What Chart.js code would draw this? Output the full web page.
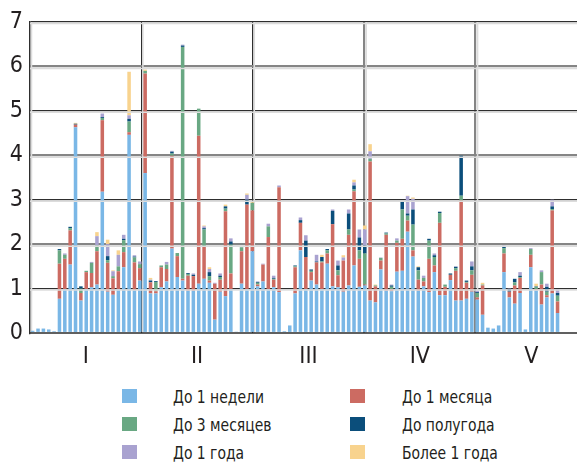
<!DOCTYPE html>
<html><head><meta charset="utf-8">
<script src="https://cdn.jsdelivr.net/npm/chart.js@4/dist/chart.umd.min.js"></script>
<style>
html,body{margin:0;padding:0;background:#fff;overflow:hidden;width:577px;height:464px;}
#wrap{position:absolute;left:0;top:0;width:587px;height:370px;}
.leg{position:absolute;font-family:"Liberation Sans Narrow","Arial Narrow","DejaVu Sans Condensed",sans-serif;font-size:18px;color:#231f20;line-height:20px;white-space:nowrap;transform:scaleX(0.86);transform-origin:0 50%;}
.sw{position:absolute;width:15px;height:14px;}
</style></head><body>
<div id="wrap"><canvas id="c" width="587" height="370"></canvas></div>
<div id="legend"></div>
<script>
const groups = ['I','II','III','IV','V'];
const seriesNames = ['До 1 недели','До 1 месяца','До 3 месяцев','До полугода','До 1 года','Более 1 года'];
const seriesColors = ['#7ab7e6','#cc6b62','#69a883','#0b4e7b','#a9a2d0','#f8d38e'];
const emptySlots = 5;

const week = [0.05,0.1,0.1,0.08,0.04,0.77,0.99,1.54,4.63,0.73,
  0.99,1.03,1.09,3.18,0.93,0.86,0.99,1.48,4.46,0.96,
  1.18,3.60,0.89,0.89,1.03,1.16,1.90,1.26,1.18,0.95,
  0.95,1.11,1.22,1.13,0.30,0.93,0.83,0.99,0.03,1.11,
  0.99,1.84,1.05,1.16,0.99,1.03,0.92,0.04,0.17,0.89,
  1.86,0.99,1.18,1.09,0.99,1.56,1.05,1.03,0.93,1.07,
  1.52,1.04,1.07,0.73,0.69,1.43,0.95,0.94,1.38,1.40,
  2.28,1.72,0.95,1.05,0.92,1.37,0.85,0.85,1.19,0.73,
  0.73,0.77,0.93,0.75,0.41,0.12,0.10,0.17,1.37,0.80,
  0.66,0.90,0.08,1.48,0.96,0.64,0.80,0.89,0.45];
const month = [0,0,0,0,0,.79,.68,.77,.06,.17,
  .38,.32,.75,1.61,.65,.37,.40,.34,.06,.63,
  .28,2.24,.25,.05,.45,.28,2.09,.47,.04,.34,
  .33,3.33,.73,.05,.81,.27,1.91,.35,0,.73,
  1.90,.92,.04,.38,1.17,.17,2.36,0,0,.59,
  .62,.72,.19,.50,.60,.23,1.40,.27,.70,1.14,
  1.67,.63,.02,3.13,.36,.20,1.26,.05,.65,.72,
  .25,.14,.25,.11,.75,.15,1.63,.19,.12,.67,
  2.25,.36,.38,.05,.66,0,0,0,.42,.13,
  .41,.34,0,.28,.03,.45,.05,1.87,.26];
const months3 = [0,0,0,0,0,.30,.09,.05,0,.10,
  .03,.23,.13,.05,.06,.05,.11,.27,.24,.11,
  .09,.06,0,.21,.04,.10,.05,.07,5.22,.04,
  0,.61,.38,.10,0,.06,.06,.65,0,.09,
  0,.17,.04,0,.24,.02,0,0,0,.02,
  0,0,.03,0,.02,.07,0,.11,0,.12,
  .04,.19,.70,.06,.02,.06,.03,.05,.05,.66,
  .11,.58,.21,.08,.41,.19,.22,.05,0,.06,
  .11,.02,.10,.10,.02,0,0,0,.12,0,
  .07,.02,0,.13,.05,.28,.08,.03,.13];
const halfYear = [0,0,0,0,0,.03,0,.03,.02,.05,
  0,0,0,.02,.09,0,0,.03,.06,.02,
  0,0,.04,.02,0,0,.04,0,.03,.02,
  .03,0,.03,.09,0,.03,.05,.07,0,0,
  .11,0,.02,0,0,.02,0,0,0,.02,
  .06,.37,.03,.02,.10,.03,.30,.11,0,.36,
  .09,.29,.18,0,0,0,.02,.03,0,.18,
  .05,.34,.07,0,.04,.04,.03,0,.03,.03,
  .90,.03,.09,.02,0,0,0,0,.03,.06,
  .08,.03,0,0,.01,0,.11,.06,.06];
const year = [0,0,0,0,0,0,.03,0,0,0,
  0,.02,.21,.08,.27,.11,.26,.09,.08,.03,
  .06,0,.02,0,0,.06,.02,0,.02,0,
  .03,0,.04,.07,.02,.05,0,.07,0,.01,
  .11,0,.01,.02,.06,.05,.04,0,0,0,
  .06,.12,0,.15,0,0,.03,.11,.07,.09,
  .07,.18,.36,.17,0,.01,0,.02,.05,0,
  .39,.24,0,.05,0,.04,0,0,0,.01,
  0,0,.11,.03,0,0,0,0,.03,.01,
  0,.08,0,.02,0,.04,.07,.15,.09];
const overYear = [0,0,0,0,0,0,0,0,.02,0,
  0,0,.09,0,.10,.02,.10,0,.98,0,
  0,.03,.04,0,0,0,0,0,0,0,
  0,0,.02,.04,0,0,.04,0,0,0,
  .03,.03,0,0,0,0,0,0,0,0,
  0,0,0,0,.05,0,0,0,.05,0,
  .06,0,.09,.16,.02,0,0,0,0,0,
  .01,.03,.02,0,0,0,0,0,0,0,
  0,0,0,0,.04,0,0,0,0,0,
  0,0,0,0,.06,0,0,0,0];
const yTicks = [0,1,2,3,4,5,6,7];

const seriesData = [week, month, months3, halfYear, year, overYear];
const categories = week.map((_, i) => String(i + 1)).concat(Array(emptySlots).fill(''));

const FONT = '"Liberation Sans Narrow","Arial Narrow","DejaVu Sans Condensed",sans-serif';

const decor = {
  id: 'decor',
  beforeDatasetsDraw(chart) {
    const { ctx, chartArea: a, scales: { y } } = chart;
    ctx.save();
    ctx.strokeStyle = '#dcdcdc'; ctx.lineWidth = 1.5;
    const w = a.width / groups.length;
    for (let i = 0; i < groups.length; i++) {
      const x = a.left + i * w + (i >= 3 ? 2 : 1.5);
      ctx.beginPath(); ctx.moveTo(x, a.top); ctx.lineTo(x, a.bottom); ctx.stroke();
    }
    const y0 = y.getPixelForValue(0);
    ctx.strokeStyle = '#2b2b2b'; ctx.lineWidth = 1.5;
    ctx.beginPath(); ctx.moveTo(a.left, y0); ctx.lineTo(a.right, y0); ctx.stroke();
    ctx.restore();
  },
  afterDatasetsDraw(chart) {
    const { ctx, chartArea: a, scales: { y } } = chart;
    ctx.save();
    ctx.strokeStyle = '#dcdcdc'; ctx.lineWidth = 1.5;
    yTicks.forEach(v => {
      if (v === 0) return;
      const p = y.getPixelForValue(v) + (v % 2 ? 1.5 : 2);
      ctx.beginPath(); ctx.moveTo(a.left, p); ctx.lineTo(a.right, p); ctx.stroke();
    });
    ctx.restore();
  }
};

new Chart(document.getElementById('c'), {
  type: 'bar',
  data: {
    labels: categories,
    datasets: seriesNames.map((n, i) => ({
      label: n,
      data: seriesData[i],
      backgroundColor: seriesColors[i],
      borderWidth: 0,
      barPercentage: 0.66,
      categoryPercentage: 1,
      xAxisID: 'x',
      yAxisID: 'y'
    }))
  },
  options: {
    responsive: false,
    animation: false,
    layout: { padding: { top: 22, left: 0, right: 0, bottom: 0 } },
    plugins: { legend: { display: false }, tooltip: { enabled: false } },
    scales: {
      x: { type: 'category', stacked: true, display: false, offset: true, grid: { display: false } },
      x2: {
        type: 'category', labels: groups, position: 'bottom', offset: true, z: 0,
        grid: {
          offset: true, drawTicks: false,
          color: c => c.index <= 2 ? '#2e2e2e' : (c.index <= 4 ? '#858585' : 'rgba(0,0,0,0)'),
          lineWidth: c => c.index <= 2 ? 1.3 : 2.2
        },
        border: { display: false },
        ticks: { font: { family: FONT, size: 23 }, color: '#231f20', padding: 10, maxRotation: 0, autoSkip: false },
        afterFit: s => { s.height = 37; }
      },
      y: {
        stacked: true, min: 0, max: 7, z: 1,
        afterBuildTicks: s => { s.ticks = yTicks.map(v => ({ value: v })); },
        ticks: { font: { family: FONT, size: 23 }, color: '#231f20', padding: 7 },
        grid: {
          drawTicks: false,
          color: c => c.tick.value === 0 ? 'rgba(0,0,0,0)' : (c.tick.value % 2 ? '#2e2e2e' : '#858585'),
          lineWidth: c => c.tick.value % 2 ? 1.3 : 2.2
        },
        border: { display: true, color: '#2e2e2e', width: 1.3 },
        afterFit: s => { s.width = 30; }
      }
    }
  },
  plugins: [decor]
});

const legend = document.getElementById('legend');
const colX = [{ sw: 122, tx: 173 }, { sw: 350, tx: 402 }];
const rowTop = [389, 417, 445];
const order = [[0, 2, 4], [1, 3, 5]];
order.forEach((col, ci) => col.forEach((si, ri) => {
  const sw = document.createElement('div');
  sw.className = 'sw';
  sw.style.left = colX[ci].sw + 'px';
  sw.style.top = rowTop[ri] + 'px';
  sw.style.background = seriesColors[si];
  legend.appendChild(sw);
  const t = document.createElement('div');
  t.className = 'leg';
  t.style.left = colX[ci].tx + 'px';
  t.style.top = (rowTop[ri] - 2) + 'px';
  t.textContent = seriesNames[si];
  legend.appendChild(t);
}));
</script>
</body></html>
